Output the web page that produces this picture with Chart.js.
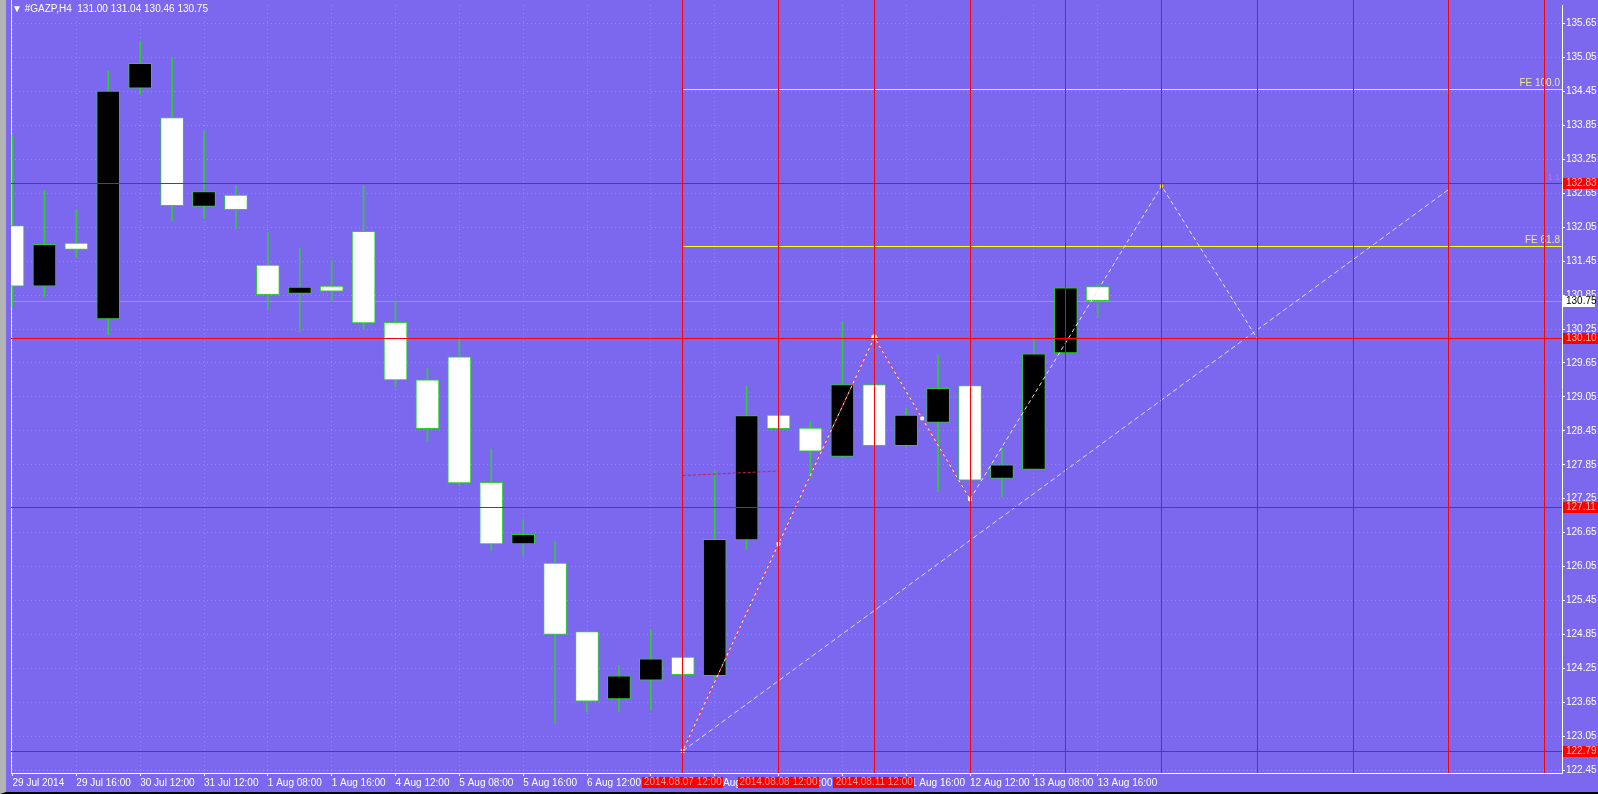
<!DOCTYPE html>
<html>
<head>
<meta charset="utf-8">
<title>#GAZP,H4</title>
<script src="https://cdn.jsdelivr.net/npm/chart.js@4.4.1/dist/chart.umd.min.js"></script>
<style>
  html, body { margin: 0; padding: 0; background: #7b68ee; overflow: hidden; }
  #wrap {
    position: relative;
    width: 1592px;
    height: 792px;
    border-left: 6px solid #b4b4b4;
    border-bottom: 2px solid #000;
  }
  #header {
    position: absolute;
    left: 6px;
    top: 3px;
    color: #fff;
    font: 10px "Liberation Sans", Arial, sans-serif;
    white-space: pre;
  }
</style>
</head>
<body>
<div id="wrap">
  <canvas id="chart" width="1592" height="792"></canvas>
  <div id="header">▼ #GAZP,H4  131.00 131.04 130.46 130.75</div>
</div>
<script>
// H4 bars, oldest first
const opens  = [132.08, 131.01, 131.77, 130.43, 134.51, 133.99, 132.42, 132.62, 131.38, 130.88,
                131.01, 131.98, 130.37, 129.35, 129.76, 127.54, 126.45, 126.11, 124.90, 123.71,
                124.04, 124.45, 124.12, 126.52, 128.73, 128.50, 128.00, 129.27, 128.19, 128.60,
                129.25, 127.61, 127.77, 129.83, 131.00];
const highs  = [133.67, 132.70, 132.35, 134.81, 135.34, 135.05, 133.75, 132.79, 131.96, 131.68,
                131.47, 132.79, 130.75, 129.56, 130.08, 128.13, 126.88, 126.50, 124.90, 124.30,
                124.92, 124.50, 127.74, 129.25, 128.78, 128.62, 130.38, 129.30, 128.85, 129.79,
                129.28, 128.15, 130.08, 131.00, 131.04];
const lows   = [130.65, 130.82, 131.52, 130.15, 134.40, 132.17, 132.20, 132.02, 130.61, 130.20,
                130.73, 130.25, 129.23, 128.26, 127.50, 126.33, 126.24, 123.28, 123.48, 123.48,
                123.51, 124.05, 124.05, 126.36, 128.45, 127.62, 128.00, 128.15, 128.15, 127.38,
                127.50, 127.28, 127.77, 129.80, 130.46];
const closes = [131.01, 131.75, 131.66, 134.46, 134.95, 132.43, 132.68, 132.36, 130.86, 130.99,
                130.92, 130.36, 129.35, 128.49, 127.53, 126.45, 126.62, 124.85, 123.67, 124.12,
                124.42, 124.14, 126.53, 128.72, 128.49, 128.09, 129.27, 128.19, 128.73, 129.20,
                127.58, 127.85, 129.81, 130.98, 130.75];

// time axis labels (every second bar)
const labelBars  = [0, 2, 4, 6, 8, 10, 12, 14, 16, 18, 20, 22, 24, 26, 28, 30, 32, 34];
const timeLabels = ['29 Jul 2014', '29 Jul 16:00', '30 Jul 12:00', '31 Jul 12:00', '1 Aug 08:00',
                    '1 Aug 16:00', '4 Aug 12:00', '5 Aug 08:00', '5 Aug 16:00', '6 Aug 12:00',
                    '7 Aug 08:00', '7 Aug 16:00', '8 Aug 12:00', '11 Aug 08:00', '11 Aug 16:00',
                    '12 Aug 12:00', '13 Aug 08:00', '13 Aug 16:00'];

// price axis labels
const priceTicks = [122.45, 123.05, 123.65, 124.25, 124.85, 125.45, 126.05, 126.65, 127.25,
                    127.85, 128.45, 129.05, 129.65, 130.25, 130.85, 131.45, 132.05, 132.65,
                    133.25, 133.85, 134.45, 135.05, 135.65];

// chart objects
const redLevels     = [132.83, 130.10, 127.11, 122.79];
const redLevelText  = ['132.83', '130.10', '127.11', '122.79'];
const vLineBars     = [21, 24, 27, 30, 33, 36, 39, 42, 45, 48];
const vLineText     = ['2014.08.07 12:00', '2014.08.08 12:00', '2014.08.11 12:00'];
const feStartBar    = 21;
const feLevels      = [134.49, 131.71];
const feText        = ['FE 100.0', 'FE 61.8'];
const bidPrice      = 130.75;

const zigzagBars   = [21, 24, 27, 28.5, 30];
const zigzagPrices = [122.79, 126.45, 130.10, 128.67, 127.24];
const projBars     = [30, 36, 39];
const projPrices   = [127.24, 132.78, 130.08];
const trendBars    = [21, 45];
const trendPrices  = [122.79, 132.72];
const stubBars     = [21, 24];
const stubPrices   = [127.66, 127.74];

const GREEN = '#32cd32';
const RED = '#ff0000';
const FONT = 'Liberation Sans';

Chart.defaults.font.family = FONT;
Chart.defaults.font.size = 10;

function points(xs, ys) {
  return xs.map((x, i) => ({ x: x, y: ys[i] }));
}

const mtObjects = {
  id: 'mtObjects',
  beforeDatasetsDraw(chart) {
    const { ctx, chartArea: a, scales: { y } } = chart;
    // bid line + left frame
    ctx.save();
    const py = Math.round(y.getPixelForValue(bidPrice)) + 0.5;
    ctx.strokeStyle = '#9a98b4';
    ctx.lineWidth = 1;
    ctx.beginPath();
    ctx.moveTo(a.left, py);
    ctx.lineTo(a.right, py);
    ctx.stroke();
    ctx.strokeStyle = '#e8e8e8';
    ctx.beginPath();
    ctx.moveTo(a.left + 0.5, 0);
    ctx.lineTo(a.left + 0.5, a.bottom);
    ctx.stroke();
    ctx.restore();
  },
  afterDatasetsDraw(chart) {
    const { ctx, chartArea: a, scales: { x, y } } = chart;
    ctx.save();
    ctx.lineWidth = 1;

    // fibo expansion levels
    ctx.font = '10px ' + FONT;
    ctx.textAlign = 'right';
    ctx.textBaseline = 'bottom';
    const fx = x.getPixelForValue(feStartBar);
    feLevels.forEach((lv, i) => {
      const py = Math.round(y.getPixelForValue(lv)) + 0.5;
      ctx.strokeStyle = '#ffff00';
      ctx.beginPath();
      ctx.moveTo(fx, py);
      ctx.lineTo(a.right, py);
      ctx.stroke();
      ctx.fillStyle = '#f0e68c';
      ctx.fillText(feText[i], a.right - 2, py - 1);
    });

    // horizontal red lines
    ctx.strokeStyle = RED;
    redLevels.forEach((lv) => {
      const py = Math.round(y.getPixelForValue(lv)) + 0.5;
      ctx.beginPath();
      ctx.moveTo(a.left, py);
      ctx.lineTo(a.right, py);
      ctx.stroke();
    });
    // vertical red lines, reaching the top edge like the terminal window
    vLineBars.forEach((b) => {
      const px = Math.round(x.getPixelForValue(b) - 0.5) + 0.5;
      ctx.beginPath();
      ctx.moveTo(px, 0);
      ctx.lineTo(px, a.bottom);
      ctx.stroke();
    });

    ctx.fillStyle = '#d66ad6';
    ctx.font = '9px ' + FONT;
    ctx.textAlign = 'right';
    ctx.fillText('1.1', a.right - 2, y.getPixelForValue(redLevels[0]) - 1);
    ctx.restore();
  },
  afterDraw(chart) {
    const { ctx, chartArea: a, scales: { x, y }, width } = chart;
    ctx.save();
    ctx.font = '10px ' + FONT;
    ctx.textBaseline = 'middle';

    // price labels of the red levels
    redLevels.forEach((lv, i) => {
      const py = Math.round(y.getPixelForValue(lv));
      ctx.fillStyle = RED;
      ctx.fillRect(a.right + 1, py - 5, width - a.right - 1, 11);
      ctx.fillStyle = '#ffb8b8';
      ctx.textAlign = 'left';
      ctx.fillText(redLevelText[i], a.right + 4, py + 0.5);
    });
    // bid label
    const by = Math.round(y.getPixelForValue(bidPrice));
    ctx.fillStyle = '#fff';
    ctx.fillRect(a.right + 1, by - 5, width - a.right - 4, 11);
    ctx.fillStyle = '#000';
    ctx.fillText(bidPrice.toFixed(2), a.right + 4, by + 0.5);

    // time labels of the vertical lines
    vLineText.forEach((t, i) => {
      const px = x.getPixelForValue(vLineBars[i]);
      ctx.fillStyle = RED;
      ctx.fillRect(Math.round(px - 41), a.bottom + 4, 81, 11);
      ctx.fillStyle = '#ff9c9c';
      ctx.textAlign = 'center';
      ctx.fillText(t, px, a.bottom + 9.5);
    });
    ctx.restore();
  },
};

const bodyColors = opens.map((o, i) => (closes[i] > o ? '#000000' : '#ffffff'));

new Chart(document.getElementById('chart'), {
  type: 'bar',
  data: {
    datasets: [
      {
        type: 'line',
        label: 'ZigZag',
        data: points(zigzagBars, zigzagPrices),
        borderColor: '#ff3030',
        borderWidth: 1,
        borderDash: [3, 3],
        pointStyle: ['rect', 'rect', 'circle', 'rect', 'rect'],
        pointRadius: [2, 2, 3, 2, 2],
        pointBackgroundColor: '#ffffff',
        pointBorderColor: ['#ffffff', '#ffffff', '#ffa040', '#ffffff', '#ffffff'],
        order: -5,
      },
      {
        type: 'line',
        label: 'ZigZag dots',
        data: points(zigzagBars, zigzagPrices),
        borderColor: '#fff4d0',
        borderWidth: 1,
        borderDash: [3, 3],
        borderDashOffset: 3,
        pointRadius: 0,
        order: -4,
      },
      {
        type: 'line',
        label: 'Projection',
        data: points(projBars, projPrices),
        borderColor: '#ece8d0',
        borderWidth: 1,
        borderDash: [4, 3],
        pointRadius: [0, 1.5, 0],
        pointBackgroundColor: '#ffd700',
        pointBorderColor: '#ffd700',
        order: -3,
      },
      {
        type: 'line',
        label: 'Trend',
        data: points(trendBars, trendPrices),
        borderColor: '#dcdce8',
        borderWidth: 1,
        borderDash: [5, 3],
        pointRadius: 0,
        order: -2,
      },
      {
        type: 'line',
        label: 'Stub',
        data: points(stubBars, stubPrices),
        borderColor: '#c81e50',
        borderWidth: 1,
        borderDash: [3, 2],
        pointRadius: 0,
        order: -1,
      },
      {
        label: 'Body',
        data: opens.map((o, i) => ({ x: i, y: [o, closes[i]] })),
        backgroundColor: bodyColors,
        borderColor: GREEN,
        borderWidth: 1,
        borderSkipped: false,
        barThickness: 23,
        grouped: false,
        order: 0,
      },
      {
        label: 'Wick',
        data: lows.map((l, i) => ({ x: i, y: [l, highs[i]] })),
        backgroundColor: GREEN,
        borderWidth: 0,
        barThickness: 1,
        grouped: false,
        order: 1,
      },
    ],
  },
  options: {
    responsive: false,
    devicePixelRatio: 1,
    animation: false,
    events: [],
    layout: { padding: { left: 1, top: 2, right: 0, bottom: 0 } },
    plugins: {
      legend: { display: false },
      tooltip: { enabled: false },
    },
    scales: {
      x: {
        type: 'linear',
        min: -0.046875,
        max: 48.546875,
        offset: false,
        afterBuildTicks: (s) => { s.ticks = labelBars.map((v) => ({ value: v })); },
        afterFit: (s) => {
          s.height = 19;
          s.paddingLeft = 0;
          s.paddingRight = 0;
        },
        ticks: {
          color: '#ffffff',
          align: 'start',
          maxRotation: 0,
          autoSkip: false,
          padding: 1,
          callback: (v, i) => timeLabels[i],
        },
        grid: {
          offset: false,
          color: 'rgba(170,165,215,0.55)',
          tickColor: '#ffffff',
          tickLength: 3,
          tickBorderDash: [],
        },
        border: { color: '#ffffff', dash: [1, 3] },
      },
      y: {
        position: 'right',
        min: 122.40,
        max: 135.98,
        afterBuildTicks: (s) => { s.ticks = priceTicks.map((v) => ({ value: v })); },
        afterFit: (s) => {
          s.width = 36;
          s.paddingTop = 0;
          s.paddingBottom = 0;
        },
        ticks: {
          color: '#ffffff',
          padding: 1,
          callback: (v) => v.toFixed(2),
        },
        grid: {
          color: 'rgba(170,165,215,0.55)',
          tickColor: '#ffffff',
          tickLength: 3,
          tickBorderDash: [],
        },
        border: { color: '#ffffff', dash: [1, 3] },
      },
    },
  },
  plugins: [mtObjects],
});
</script>
</body>
</html>
